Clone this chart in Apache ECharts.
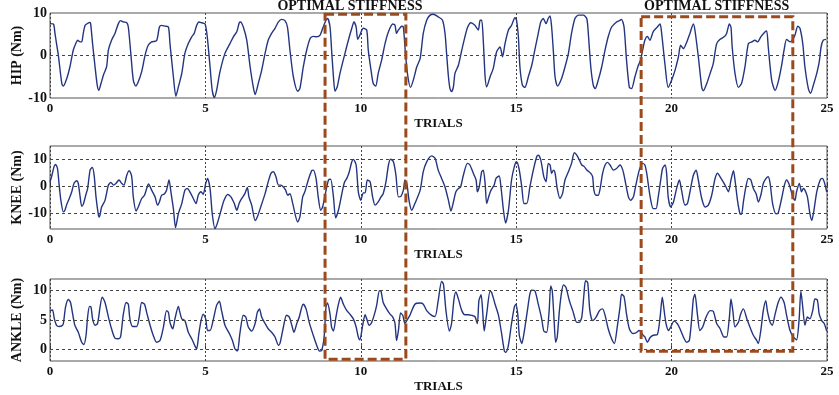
<!DOCTYPE html>
<html>
<head>
<meta charset="utf-8">
<script src="https://cdn.jsdelivr.net/npm/echarts@6/dist/echarts.min.js"></script>
<style>
  html, body { margin: 0; padding: 0; background: #fff; }
  #chart { width: 839px; height: 395px; }
</style>
</head>
<body>
<div id="chart"></div>
<script>
// joint torque traces, [trial, Nm]
var hip = [[0,7.5],[0.11,7.4],[0.16,5.2],[0.21,2.8],[0.27,0],[0.38,-6.6],[0.43,-7.2],[0.54,-5.4],[0.64,-2.7],[0.75,1.3],[0.84,3.0],[0.89,3.6],[0.97,3.2],[1.02,3.2],[1.07,5.2],[1.13,7.1],[1.20,7.5],[1.29,7.8],[1.31,7.4],[1.37,2.8],[1.45,-2.7],[1.52,-7.0],[1.57,-8.2],[1.64,-6.6],[1.72,-4.6],[1.82,-2.7],[1.88,1.3],[1.98,3.6],[2.09,5.2],[2.20,7.5],[2.27,8.2],[2.36,7.9],[2.47,7.7],[2.52,6.7],[2.60,0.5],[2.68,-5.8],[2.76,-7.2],[2.84,-6.2],[2.95,-3.8],[3.06,0.1],[3.16,2.4],[3.27,3.2],[3.43,3.5],[3.52,6.7],[3.59,7.1],[3.70,6.9],[3.81,6.7],[3.86,2.8],[3.97,-5.0],[4.05,-9.6],[4.13,-7.4],[4.24,-4.2],[4.34,0.5],[4.45,2.8],[4.56,4.4],[4.64,5.2],[4.72,7.1],[4.79,7.9],[4.88,7.7],[4.99,7.4],[5.06,4.4],[5.15,-2.7],[5.22,-8.2],[5.29,-9.9],[5.36,-8.2],[5.47,-3.8],[5.63,0.5],[5.79,2.8],[5.90,4.4],[6.01,5.6],[6.09,7.7],[6.13,7.9],[6.22,6.7],[6.33,3.6],[6.44,-2.7],[6.54,-7.4],[6.60,-9.2],[6.70,-6.6],[6.81,-3.5],[6.92,0.5],[7.02,3.6],[7.13,5.2],[7.24,6.4],[7.35,7.9],[7.45,8.5],[7.56,8.2],[7.64,6.7],[7.72,1.3],[7.83,-5.0],[7.97,-8.4],[8.04,-7.8],[8.15,-2.7],[8.26,1.3],[8.37,4.0],[8.47,4.5],[8.58,4.4],[8.69,4.8],[8.79,6.7],[8.88,8.3],[8.93,8.7],[9.01,6.7],[9.06,1.3],[9.12,-5.0],[9.17,-8.4],[9.24,-7.4],[9.33,-4.2],[9.49,0.5],[9.60,3.6],[9.71,6.4],[9.78,7.9],[9.85,6.7],[9.90,3.8],[9.97,4.8],[10.08,6.4],[10.19,6.0],[10.24,1.3],[10.33,-3.5],[10.40,-6.6],[10.48,-7.2],[10.56,-4.2],[10.67,-1.1],[10.78,2.8],[10.89,5.6],[11.03,7.4],[11.10,7.1],[11.15,5.2],[11.21,6.0],[11.32,6.9],[11.37,6.7],[11.42,2.0],[11.50,-4.2],[11.60,-7.5],[11.69,-5.8],[11.80,-2.7],
  [11.91,-0.7],[12.01,5.2],[12.12,8.3],[12.23,9.5],[12.33,9.7],[12.49,9.1],[12.63,8.3],[12.71,5.2],[12.76,0.5],[12.82,-5.0],[12.87,-7.8],[12.92,-8.5],[12.98,-7.4],[13.03,-4.2],[13.14,-2.3],[13.25,1.3],[13.35,4.4],[13.44,6.7],[13.54,7.7],[13.67,7.1],[13.78,6.0],[13.84,8.3],[13.89,8.3],[13.94,3.6],[14.00,-5.0],[14.05,-7.4],[14.16,-5.0],[14.26,-3.1],[14.37,0.9],[14.48,2.0],[14.56,-0.3],[14.64,2.8],[14.75,6.0],[14.85,7.1],[14.96,8.9],[15.01,8.3],[15.07,4.4],[15.12,-2.7],[15.20,-7.0],[15.28,-7.5],[15.39,-5.0],[15.50,-2.3],[15.60,1.3],[15.71,5.2],[15.79,7.9],[15.87,8.7],[15.96,7.5],[16.03,8.7],[16.09,9.3],[16.14,6.7],[16.20,0.5],[16.25,-5.0],[16.33,-7.2],[16.46,-5.4],[16.57,-2.7],[16.68,0.5],[16.78,5.2],[16.89,8.7],[17.00,9.5],[17.16,9.5],[17.27,8.7],[17.32,5.2],[17.40,-2.7],[17.48,-7.0],[17.54,-7.8],[17.64,-5.8],[17.75,-2.7],[17.86,1.3],[17.96,4.4],[18.07,6.7],[18.23,7.9],[18.32,8.2],[18.39,8.5],[18.47,6.7],[18.55,-1.1],[18.64,-7.5],[18.71,-7.8],[18.82,-5.0],[18.93,-2.3],[19.00,-1.1],[19.07,1.3],[19.14,3.6],[19.22,4.5],[19.30,3.6],[19.41,5.6],[19.54,6.7],[19.63,7.4],[19.68,5.2],[19.79,-2.3],[19.89,-7.5],[20.00,-5.8],[20.11,-3.5],[20.22,-0.3],[20.29,2.4],[20.38,1.6],[20.49,3.2],[20.59,5.2],[20.70,7.4],[20.75,6.0],[20.86,-0.3],[20.97,-7.5],[21.02,-8.3],[21.13,-6.6],[21.24,-4.2],[21.34,-1.9],[21.45,2.8],[21.56,3.8],[21.69,4.4],[21.77,5.2],[21.86,7.4],[21.91,6.7],[21.95,2.0],[22.04,-4.2],[22.15,-7.5],[22.25,-6.6],[22.36,-2.7],[22.47,2.8],[22.58,3.2],[22.68,3.6],[22.77,3.2],[22.87,4.4],[23.01,5.6],[23.06,5.8],[23.11,2.0],[23.22,-5.8],[23.33,-8.2],[23.43,-6.2],[23.54,-2.3],[23.62,1.3],[23.70,3.8],[23.81,3.2],[23.90,3.8],[23.97,4.8],[24.06,6.9],[24.13,6.4],[24.22,2.8],[24.29,-2.7],[24.40,-7.8],[24.47,-8.9],[24.56,-7.0],[24.67,-4.2],[24.75,-1.5],[24.81,2.0],[24.88,3.6],[24.97,3.8]];

var knee = [[0,1.6],[0.05,3.5],[0.13,7.3],[0.18,8.1],[0.24,6.6],[0.29,1.0],[0.35,-5.3],[0.43,-9.6],[0.48,-9.0],[0.54,-6.8],[0.62,-4.6],[0.70,-2.1],[0.77,1.0],[0.86,2.0],[0.91,1.0],[0.97,-4.0],[1.02,-7.5],[1.07,-6.8],[1.15,-3.4],[1.21,-0.9],[1.29,6.0],[1.36,7.0],[1.42,4.1],[1.48,-4.0],[1.56,-10.9],[1.59,-11.5],[1.66,-7.8],[1.77,-5.3],[1.88,0.4],[1.96,1.4],[2.04,0.4],[2.12,1.0],[2.22,2.3],[2.31,1.0],[2.38,0.4],[2.47,4.1],[2.55,5.8],[2.63,3.5],[2.68,-4.0],[2.77,-9.3],[2.84,-7.8],[2.95,-4.6],[3.04,-3.4],[3.11,-0.9],[3.17,0.8],[3.27,-1.5],[3.38,-4.0],[3.46,-7.1],[3.52,-5.9],[3.59,-3.4],[3.67,-3.0],[3.75,-1.5],[3.83,2.3],[3.89,-2.1],[3.97,-8.4],[4.04,-15.5],[4.13,-10.3],[4.24,-6.5],[4.34,-1.5],[4.42,-0.9],[4.50,-2.1],[4.61,-4.6],[4.70,-6.5],[4.77,-3.4],[4.86,-2.1],[4.93,-3.0],[5.01,1.0],[5.07,2.9],[5.15,-0.9],[5.22,-10.3],[5.31,-15.9],[5.38,-14.0],[5.49,-9.6],[5.60,-5.3],[5.72,-3.1],[5.82,-4.0],[5.93,-6.5],[6.01,-9.0],[6.09,-6.3],[6.17,-4.6],[6.27,-2.8],[6.35,-0.5],[6.40,-4.0],[6.49,-7.1],[6.60,-12.8],[6.67,-11.5],[6.78,-7.8],[6.92,-2.8],[7.02,1.6],[7.11,4.8],[7.19,5.4],[7.27,3.5],[7.35,0.4],[7.43,0.4],[7.51,-0.3],[7.58,-1.5],[7.65,-3.4],[7.72,-2.8],[7.81,-6.5],[7.97,-13.4],[8.04,-11.5],[8.13,-4.0],[8.20,-2.1],[8.31,2.3],[8.42,5.8],[8.47,6.0],[8.56,2.9],[8.63,-4.0],[8.71,-9.0],[8.77,-7.8],[8.85,-3.4],[8.96,2.3],[9.03,2.6],[9.12,-4.0],[9.19,-11.8],[9.28,-9.0],[9.38,-3.4],[9.47,1.3],[9.55,2.9],[9.63,5.4],[9.71,9.1],[9.76,10.0],[9.85,7.9],[9.92,-2.1],[10.00,-5.3],[10.08,-2.5],[10.14,-2.5],[10.21,2.3],[10.30,1.6],[10.38,-4.0],[10.46,-7.1],[10.56,-5.9],[10.65,-4.0],[10.72,-2.8],[10.81,1.6],[10.89,7.9],[10.96,10.1],[11.05,9.1],[11.13,4.1],[11.21,-4.0],[11.29,-3.8],[11.37,-1.5],[11.42,2.3],[11.48,1.0],[11.56,-5.9],[11.64,-9.0],[11.74,-6.5],
  [11.91,-1.5],[12.01,5.4],[12.12,9.1],[12.28,11.3],[12.39,10.4],[12.49,6.0],[12.60,2.9],[12.71,-0.3],[12.82,-5.3],[12.90,-9.3],[12.98,-5.9],[13.06,-2.1],[13.14,-0.9],[13.21,-0.3],[13.30,4.1],[13.43,8.5],[13.51,7.9],[13.62,4.8],[13.71,2.3],[13.75,-2.1],[13.81,-0.3],[13.89,5.4],[13.94,6.0],[14.00,1.0],[14.05,-6.5],[14.13,-3.4],[14.19,-1.5],[14.29,0.4],[14.35,2.9],[14.45,3.8],[14.51,-0.3],[14.59,-9.0],[14.66,-13.8],[14.75,-9.0],[14.85,2.3],[14.94,7.3],[15.01,9.1],[15.09,6.6],[15.18,-0.3],[15.25,-6.5],[15.34,-6.5],[15.44,-0.3],[15.55,6.0],[15.66,11.0],[15.71,11.6],[15.79,9.8],[15.89,3.5],[15.96,1.6],[16.03,8.5],[16.09,7.9],[16.14,4.8],[16.20,6.0],[16.25,5.0],[16.32,-0.9],[16.41,-4.6],[16.49,-2.8],[16.57,2.3],[16.68,5.4],[16.78,8.5],[16.87,12.5],[16.95,11.6],[17.03,9.8],[17.11,7.9],[17.19,7.3],[17.27,6.0],[17.34,5.4],[17.40,4.8],[17.46,3.5],[17.50,-1.5],[17.57,-3.4],[17.64,-3.4],[17.70,-0.9],[17.78,4.8],[17.86,7.9],[17.94,8.9],[18.02,7.9],[18.13,6.0],[18.23,6.6],[18.34,7.9],[18.43,6.0],[18.50,2.3],[18.61,-4.0],[18.68,-5.3],[18.77,-4.0],[18.85,0.4],[18.96,6.0],[19.07,8.5],[19.14,7.9],[19.20,4.8],[19.31,-4.0],[19.41,-8.4],[19.50,-8.4],[19.57,-4.0],[19.65,2.3],[19.71,6.6],[19.79,7.9],[19.84,4.8],[19.89,-4.0],[19.97,-7.8],[20.06,-5.9],[20.16,-0.9],[20.25,2.3],[20.32,-1.5],[20.43,-7.1],[20.51,-6.5],[20.61,-0.9],[20.70,4.1],[20.79,6.0],[20.86,2.3],[20.97,-4.6],[21.08,-7.8],[21.18,-7.1],[21.29,-3.4],[21.40,2.9],[21.48,4.8],[21.56,3.5],[21.66,1.6],[21.75,-0.3],[21.83,-2.1],[21.91,2.3],[21.99,5.8],[22.04,2.3],[22.12,-5.3],[22.20,-10.3],[22.25,-10.5],[22.31,-5.9],[22.39,-0.3],[22.47,2.9],[22.55,2.3],[22.63,-0.9],[22.72,-2.8],[22.79,-5.9],[22.87,-3.4],[22.95,1.0],[23.04,2.9],[23.11,3.5],[23.17,1.0],[23.25,-6.5],[23.36,-10.3],[23.43,-10.0],[23.54,-4.6],[23.63,0.4],[23.70,2.3],[23.79,0.4],[23.90,-4.0],[23.97,-5.3],[24.02,-2.1],[24.11,1.0],[24.18,-2.1],[24.24,-0.9],[24.29,-1.5],[24.37,-4.0],[24.45,-10.3],[24.51,-12.8],[24.58,-9.0],[24.67,-2.1],[24.78,2.3],[24.85,2.9],[24.91,1.6],[24.99,-2.1]];

var ankle = [[0,6.6],[0.08,6.7],[0.14,5.2],[0.21,4.1],[0.30,3.9],[0.38,4.0],[0.43,4.4],[0.50,7.2],[0.59,8.5],[0.66,8.0],[0.73,6.0],[0.80,4.1],[0.91,2.9],[1.02,1.2],[1.09,0.8],[1.16,2.4],[1.21,5.5],[1.27,7.3],[1.32,7.2],[1.37,5.2],[1.45,4.1],[1.53,4.4],[1.61,7.2],[1.68,8.9],[1.77,8.0],[1.88,5.5],[1.98,3.5],[2.09,1.9],[2.20,1.8],[2.27,2.1],[2.36,6.0],[2.45,8.0],[2.52,7.7],[2.57,5.2],[2.66,3.9],[2.79,3.9],[2.87,5.5],[2.95,8.0],[3.04,7.7],[3.11,6.3],[3.22,4.1],[3.32,2.4],[3.43,1.2],[3.54,1.5],[3.65,3.8],[3.75,6.6],[3.81,6.3],[3.86,4.6],[3.95,3.5],[4.02,5.2],[4.13,7.3],[4.18,6.3],[4.24,5.2],[4.34,4.9],[4.45,2.9],[4.56,1.8],[4.67,0.5],[4.72,0.1],[4.79,2.7],[4.86,4.9],[4.93,6.0],[5.01,5.2],[5.07,3.2],[5.15,3.2],[5.26,5.2],[5.36,7.5],[5.45,8.2],[5.52,6.6],[5.63,4.1],[5.77,2.7],[5.87,1.5],[5.95,0.1],[6.03,-0.3],[6.11,2.7],[6.22,5.8],[6.30,5.5],[6.38,3.8],[6.49,3.1],[6.60,4.4],[6.67,6.3],[6.74,6.9],[6.81,5.5],[6.92,4.4],[7.02,3.5],[7.13,2.9],[7.24,2.1],[7.35,0.7],[7.40,1.0],[7.51,3.8],[7.61,5.8],[7.70,5.5],[7.78,4.1],[7.85,2.9],[7.94,4.4],[8.02,5.5],[8.10,7.2],[8.15,7.7],[8.24,6.9],[8.34,4.6],[8.47,2.4],[8.58,0.7],[8.67,-0.3],[8.74,-0.2],[8.82,2.1],[8.88,7.2],[8.93,7.9],[9.01,6.0],[9.06,3.8],[9.12,3.1],[9.20,5.5],[9.28,7.7],[9.35,8.9],[9.44,7.7],[9.55,6.6],[9.65,6.0],[9.76,5.2],[9.85,3.8],[9.92,2.1],[9.97,1.6],[10.06,4.1],[10.14,5.9],[10.19,5.2],[10.27,4.1],[10.35,4.6],[10.44,6.0],[10.51,7.5],[10.60,10.0],[10.65,9.9],[10.72,8.0],[10.83,6.9],[10.94,6.0],[11.03,5.5],[11.10,4.4],[11.15,1.5],[11.21,3.2],[11.28,6.2],[11.35,5.8],[11.42,4.4],[11.48,4.9],[11.58,5.8],[11.74,7.7],
  [11.91,7.9],[12.01,7.7],[12.12,6.6],[12.28,5.8],[12.39,5.6],[12.49,8.3],[12.60,11.6],[12.66,11.1],[12.74,6.6],[12.85,3.1],[12.92,4.4],[13.00,8.6],[13.06,9.8],[13.14,8.6],[13.25,6.6],[13.35,5.9],[13.46,5.9],[13.57,5.8],[13.67,5.6],[13.75,4.4],[13.80,8.3],[13.87,9.3],[13.92,6.6],[13.97,3.1],[14.05,6.0],[14.16,9.9],[14.21,9.7],[14.32,7.7],[14.43,5.8],[14.53,2.7],[14.62,-0.3],[14.67,-0.5],[14.75,0.7],[14.85,4.4],[14.94,7.2],[14.99,7.7],[15.05,6.0],[15.10,2.4],[15.18,1.0],[15.25,2.7],[15.36,6.6],[15.44,9.4],[15.50,10.1],[15.60,10.0],[15.71,7.7],[15.82,5.2],[15.89,3.1],[15.98,2.9],[16.06,6.6],[16.11,10.8],[16.16,10.0],[16.22,4.9],[16.27,1.2],[16.32,2.1],[16.39,6.6],[16.46,9.7],[16.52,11.0],[16.60,10.6],[16.71,8.3],[16.82,6.6],[16.95,4.6],[17.03,4.6],[17.11,5.5],[17.18,9.4],[17.23,11.7],[17.30,11.4],[17.37,6.6],[17.46,4.9],[17.57,5.5],[17.68,6.6],[17.78,6.9],[17.86,5.8],[17.96,3.5],[18.07,1.8],[18.16,1.0],[18.25,3.8],[18.34,7.2],[18.39,9.4],[18.47,9.0],[18.55,6.0],[18.64,3.5],[18.75,2.7],[18.85,2.8],[18.96,3.2],[19.07,2.5],[19.14,2.1],[19.22,1.2],[19.31,2.0],[19.41,2.4],[19.54,2.5],[19.63,5.5],[19.70,8.9],[19.76,6.6],[19.82,4.4],[19.90,3.2],[19.97,3.8],[20.08,4.8],[20.18,4.4],[20.27,3.5],[20.38,2.1],[20.48,1.2],[20.57,1.5],[20.65,5.5],[20.70,8.6],[20.75,9.4],[20.83,6.0],[20.91,3.2],[21.00,3.8],[21.11,5.5],[21.24,6.6],[21.34,6.5],[21.45,4.4],[21.56,3.5],[21.69,2.1],[21.77,2.1],[21.86,5.5],[21.91,8.6],[21.97,6.6],[22.04,3.8],[22.15,4.6],[22.22,6.0],[22.31,6.9],[22.42,5.2],[22.52,3.8],[22.63,2.4],[22.74,1.5],[22.79,1.0],[22.87,3.2],[22.95,6.6],[23.03,8.3],[23.08,6.6],[23.17,4.6],[23.24,4.1],[23.33,6.0],[23.43,8.0],[23.52,8.9],[23.62,8.0],[23.70,5.8],[23.81,3.2],[23.92,2.1],[24.02,1.6],[24.10,4.9],[24.16,9.9],[24.22,7.2],[24.29,4.1],[24.37,5.5],[24.45,5.2],[24.54,6.6],[24.61,8.6],[24.69,8.4],[24.75,6.0],[24.83,4.9],[24.91,4.4],[24.99,3.1]];

var axisNames = ['HIP (Nm)', 'KNEE (Nm)', 'ANKLE (Nm)'];
var yRanges = [[-10, 10], [-16, 15], [-2, 12]];
var yTicks = [[-10, 0, 10], [-10, 0, 10], [0, 5, 10]];
var yGridLines = [[0], [-10, 0, 10], [0, 5, 10]];
// optimal stiffness windows in trials, and where their labels sit
var optimalX = [[8.85, 11.45], [19.02, 23.9]];
var optimalTop = [9.7, 9.1];       // HIP value at top edge
var optimalBottom = [-1.7, -0.34]; // ANKLE value at bottom edge
var optimalLabelX = [9.65, 21.45];

var serif = '"Liberation Serif", "DejaVu Serif", serif';
var series_data = [hip, knee, ankle];
var gridPos = [{ top: 13, height: 85 }, { top: 146, height: 83 }, { top: 279, height: 82 }];

var chart = echarts.init(document.getElementById('chart'));

var grids = [], xAxes = [], yAxes = [], series = [];
for (var i = 0; i < 3; i++) {
  grids.push({
    left: 50, right: 12, top: gridPos[i].top, height: gridPos[i].height,
    containLabel: false, outerBoundsMode: 'none',
    show: true, borderColor: '#555', borderWidth: 1, backgroundColor: 'transparent'
  });
  xAxes.push({
    type: 'value', gridIndex: i, min: 0, max: 25, interval: 5,
    name: 'TRIALS', nameLocation: 'middle', nameGap: 19, nameMoveOverlap: false,
    nameTextStyle: { fontFamily: serif, fontWeight: 'bold', fontSize: 13, color: '#111' },
    axisLine: { show: false },
    axisTick: { show: true, inside: true, length: 4, lineStyle: { color: '#333' } },
    axisLabel: { fontFamily: serif, fontWeight: 'bold', fontSize: 13, color: '#111', margin: 4 },
    splitLine: { show: true, lineStyle: { color: '#444', type: [2, 2], width: 1 } }
  });
  yAxes.push({
    type: 'value', gridIndex: i, min: yRanges[i][0], max: yRanges[i][1],
    name: axisNames[i], nameLocation: 'middle', nameGap: 26, nameRotate: 90, nameMoveOverlap: false,
    nameTextStyle: { fontFamily: serif, fontWeight: 'bold', fontSize: 14, color: '#111' },
    axisLine: { show: false },
    axisTick: { show: false, customValues: yTicks[i] },
    axisLabel: { customValues: yTicks[i], fontFamily: serif, fontWeight: 'bold', fontSize: 14, color: '#111', margin: 3 },
    splitLine: { show: false }
  });
  series.push({
    type: 'line', xAxisIndex: i, yAxisIndex: i,
    data: series_data[i], showSymbol: false, smooth: 0.25,
    lineStyle: { color: '#243580', width: 1.4 },
    markLine: {
      silent: true, symbol: 'none', animation: false,
      label: { show: false },
      lineStyle: { color: '#444', type: [3, 3], width: 1 },
      data: yGridLines[i].map(function (v) { return { yAxis: v }; })
    }
  });
}

chart.setOption({
  animation: false,
  grid: grids,
  xAxis: xAxes,
  yAxis: yAxes,
  series: series
});

// dashed windows spanning all three panels
var graphics = [];
for (var k = 0; k < optimalX.length; k++) {
  var tl = chart.convertToPixel({ gridIndex: 0 }, [optimalX[k][0], optimalTop[k]]);
  var br = chart.convertToPixel({ gridIndex: 2 }, [optimalX[k][1], optimalBottom[k]]);
  graphics.push({
    type: 'rect', z: 100, silent: true,
    shape: { x: tl[0], y: tl[1], width: br[0] - tl[0], height: br[1] - tl[1] },
    style: { fill: 'none', stroke: '#9c4a1c', lineWidth: 3, lineDash: [9, 4] }
  });
  var lp = chart.convertToPixel({ gridIndex: 0 }, [optimalLabelX[k], 10]);
  graphics.push({
    type: 'text', z: 101, silent: true, x: lp[0], y: lp[1] - 7,
    style: { text: 'OPTIMAL STIFFNESS', font: 'bold 14px ' + serif, fill: '#111', align: 'center', verticalAlign: 'middle' }
  });
}
chart.setOption({ graphic: graphics });
</script>
</body>
</html>
